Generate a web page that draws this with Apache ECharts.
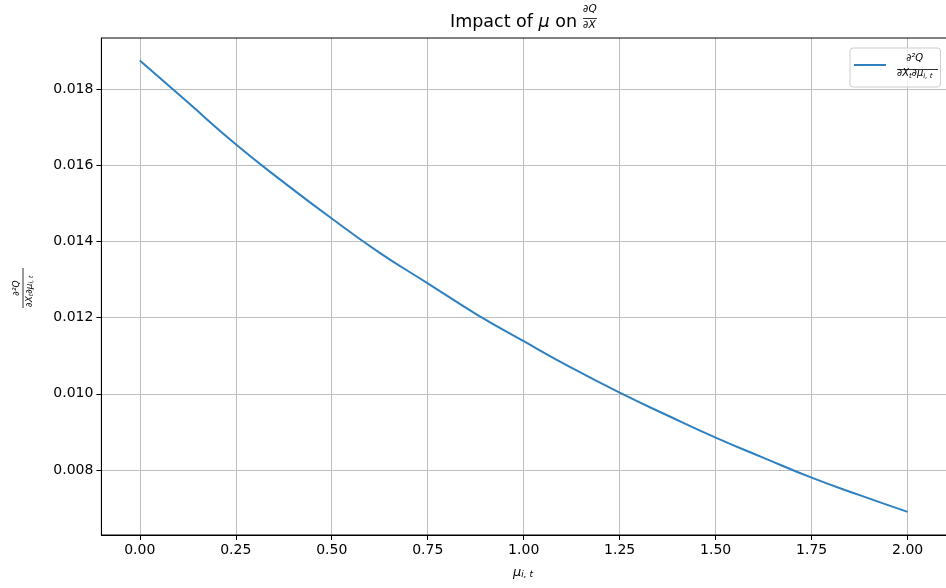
<!DOCTYPE html>
<html><head><meta charset="utf-8">
<script src="https://cdn.jsdelivr.net/npm/echarts@6/dist/echarts.min.js"></script>
<style>html,body{margin:0;padding:0;background:#fff}#c{width:946px;height:588px}</style>
</head><body><div id="c"></div>
<script>
const xValues = [0, 0.125, 0.25, 0.375, 0.5, 0.625, 0.75, 0.875, 1.0, 1.125, 1.25, 1.375, 1.5, 1.625, 1.75, 1.875, 2.0];
const yValues = [0.01875, 0.01765, 0.01655, 0.01555, 0.01460, 0.01370, 0.01290, 0.01210, 0.01138, 0.01068, 0.01003, 0.00943, 0.00885, 0.00832, 0.00780, 0.00734, 0.00690];
const xTicks = [0, 0.25, 0.5, 0.75, 1.0, 1.25, 1.5, 1.75, 2.0];
const yTicks = [0.008, 0.010, 0.012, 0.014, 0.016, 0.018];
const seriesName = '∂²Q/∂X_t∂μ_i,t';

const FONT = 'DejaVu Sans';
const chart = echarts.init(document.getElementById('c'), null, {renderer: 'canvas'});
const gridLeft = 101.4, gridTop = 38, gridWidth = 849.2, gridHeight = 497;

chart.setOption({
  animation: false,
  backgroundColor: '#fff',
  title: {
    text: 'Impact of {i|μ} on',
    left: 445, top: 8,
    textStyle: {fontFamily: FONT, fontSize: 17.5, fontWeight: 'normal', color: '#000',
      rich: {i: {fontFamily: FONT, fontSize: 17.5, fontStyle: 'italic', color: '#000'}}}
  },
  grid: {left: gridLeft, top: gridTop, width: gridWidth, height: gridHeight, show: false},
  xAxis: {
    type: 'value', min: -0.1, max: 2.1,
    axisLine: {show: true, onZero: false, lineStyle: {color: '#000', width: 1}},
    axisTick: {show: true, length: 5, customValues: xTicks, lineStyle: {color: '#000'}},
    axisLabel: {customValues: xTicks, color: '#000', fontFamily: FONT, fontSize: 14, margin: 8,
      formatter: v => v.toFixed(2)},
    splitLine: {show: true, lineStyle: {color: '#bdbdbd', width: 1}}
  },
  yAxis: {
    type: 'value', min: 0.006294, max: 0.019339,
    axisLine: {show: true, onZero: false, lineStyle: {color: '#000', width: 1}},
    axisTick: {show: true, length: 5, customValues: yTicks, lineStyle: {color: '#000'}},
    axisLabel: {customValues: yTicks, color: '#000', fontFamily: FONT, fontSize: 14, margin: 8,
      formatter: v => v.toFixed(3)},
    splitLine: {show: true, lineStyle: {color: '#bdbdbd', width: 1}}
  },
  legend: {
    left: 850, top: 48,
    data: [seriesName],
    icon: 'rect', itemWidth: 32, itemHeight: 2, itemGap: 0,
    padding: [5, 8, 7, 4],
    borderColor: '#cccccc', borderWidth: 1, borderRadius: 3,
    backgroundColor: 'rgba(255,255,255,0.8)',
    formatter: () => '{n|∂²Q}\n{d|∂X}{s|t}{d|∂μ}{s|i, t}',
    textStyle: {fontFamily: FONT, color: '#000', padding: [0, 0, 0, 6],
      rich: {
        n: {fontFamily: FONT, fontSize: 10, lineHeight: 16, align: 'center', fontStyle: 'italic'},
        d: {fontFamily: FONT, fontSize: 10, lineHeight: 14, fontStyle: 'italic'},
        s: {fontFamily: FONT, fontSize: 7, lineHeight: 11, fontStyle: 'italic', verticalAlign: 'bottom'}
      }}
  },
  graphic: [
    // title fraction
    {type: 'text', left: 583, top: 4, style: {text: '∂Q', font: 'italic 10.5px "DejaVu Sans"', fill: '#000'}},
    {type: 'line', shape: {x1: 583, y1: 18.5, x2: 597, y2: 18.5}, style: {stroke: '#000', lineWidth: 0.8}},
    {type: 'text', left: 583, top: 20, style: {text: '∂X', font: 'italic 10.5px "DejaVu Sans"', fill: '#000'}},
    // legend fraction bar
    {type: 'line', shape: {x1: 897, y1: 69.5, x2: 938, y2: 69.5}, style: {stroke: '#000', lineWidth: 0.8}, z: 100},
    // y axis label (rotated)
    {type: 'group', x: 23, y: 288, rotation: Math.PI / 2, children: [
      {type: 'text', x: 0, y: -2, style: {text: '∂²Q', font: 'italic 9px "DejaVu Sans"', fill: '#000', align: 'center', verticalAlign: 'bottom'}},
      {type: 'line', shape: {x1: -20, y1: 0, x2: 20, y2: 0}, style: {stroke: '#000', lineWidth: 0.8}},
      {type: 'text', x: -19, y: 2, style: {
        rich: {d: {font: 'italic 9px "DejaVu Sans"', fill: '#000'}, s: {font: 'italic 6px "DejaVu Sans"', fill: '#000', verticalAlign: 'bottom'}},
        text: '{d|∂X}{s|t}{d|∂μ}{s|i, t}', verticalAlign: 'top'}}
    ]},
    // x axis label
    {type: 'text', x: 513, y: 566, style: {
      rich: {m: {font: 'italic 13px "DejaVu Sans"', fill: '#000'}, s: {font: 'italic 9px "DejaVu Sans"', fill: '#000', verticalAlign: 'bottom'}},
      text: '{m|μ}{s|i, t}'}},
    // plot frame
    {type: 'rect', shape: {x: gridLeft, y: gridTop, width: gridWidth, height: gridHeight},
      style: {fill: 'none', stroke: '#000', lineWidth: 1}, z: 50, silent: true}
  ],
  series: [{
    name: seriesName,
    type: 'line',
    data: xValues.map((x, i) => [x, yValues[i]]),
    showSymbol: false, smooth: 0.5,
    lineStyle: {color: '#2e80c0', width: 2},
    itemStyle: {color: '#2e80c0'},
    z: 5
  }]
});
</script></body></html>
